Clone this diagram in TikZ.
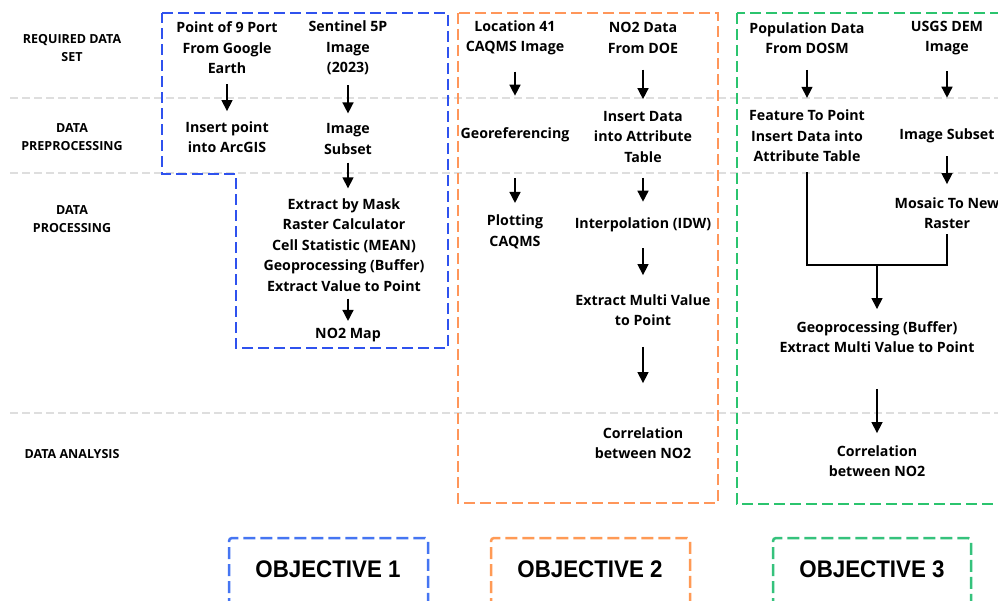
\documentclass[tikz,border=0pt]{standalone}
\usepackage{fontspec}
\setmainfont{Open Sans}
\newfontfamily\objfont{Liberation Sans}
\usetikzlibrary{arrows.meta}
\definecolor{cblue}{HTML}{2F52EE}
\definecolor{corange}{HTML}{FF965A}
\definecolor{cgreen}{HTML}{2BC46E}
\definecolor{oblue}{HTML}{4575F2}
\definecolor{oorange}{HTML}{FF9A55}
\definecolor{ogreen}{HTML}{35C27C}
\tikzset{
  txt/.style={font=\fontsize{14.2}{20.5}\selectfont\bfseries, align=center, inner sep=0pt},
  lab/.style={font=\fontsize{12.5}{17.5}\selectfont\bfseries, align=center, inner sep=0pt},
  obj/.style={font=\objfont\bfseries\fontsize{24}{28}\selectfont, inner sep=0pt},
  arr/.style={-{Triangle[width=11pt,length=11pt]}, line width=1.5pt, black},
  conn/.style={line width=1.5pt, black},
  sepline/.style={draw=black!13, line width=1.5pt, dash pattern=on 8pt off 4pt},
  frame/.style={line width=2pt, dash pattern=on 11pt off 5pt},
  objframe/.style={line width=2.5pt, dash pattern=on 12pt off 5pt, rounded corners=3pt}
}
\begin{document}
\begin{tikzpicture}[x=1pt,y=-1pt]
\useasboundingbox (0,0) rectangle (998,601);
\clip (0,0) rectangle (998,601);
\fill[white] (0,0) rectangle (998,601);

% grey separators
\draw[sepline] (10,98) -- (998,98);
\draw[sepline] (10,173) -- (998,173);
\draw[sepline] (10,413) -- (998,413);

% row labels
\node[lab] (rds) at (72,48) {REQUIRED DATA\\SET};
\node[lab] (dpp) at (72,137) {DATA\\PREPROCESSING};
\node[lab] (dpr) at (72,219) {DATA\\PROCESSING};
\node[lab] (dan) at (72,454) {DATA ANALYSIS};

% frames
\draw[frame, cblue] (162,13) -- (448,13) -- (448,348) -- (236,348) -- (236,174) -- (162,174) -- cycle;
\draw[frame, corange] (458,13) rectangle (718,503);
\draw[frame, cgreen] (737,13) rectangle (1010,504);

% objective 1
\node[txt] (p9) at (227,48) {Point of 9 Port\\From Google\\Earth};
\node[txt] (s5p) at (348,48) {Sentinel 5P\\Image\\(2023)};
\node[txt] (ins) at (227,137) {Insert point\\into ArcGIS};
\node[txt] (isub) at (348,139) {Image\\Subset};
\node[txt] (ext) at (344,245) {Extract by Mask\\Raster Calculator\\Cell Statistic (MEAN)\\Geoprocessing (Buffer)\\Extract Value to Point};
\node[txt] (nmap) at (348,335) {NO2 Map};

\draw[arr, shorten <=10pt, shorten >=10pt] (p9) -- (ins);
\draw[arr, shorten <=10pt, shorten >=10pt] (s5p) -- (isub);
\draw[arr, shorten <=8pt, shorten >=10pt] (isub.south) -- (isub.south |- ext.north);
\draw[arr, shorten <=7pt, shorten >=7pt] (ext.south -| nmap.north) -- (nmap.north);

% objective 2
\node[txt] (loc) at (515,38) {Location 41\\CAQMS Image};
\node[txt] (geor) at (515,135) {Georeferencing};
\node[txt] (plot) at (515,232) {Plotting\\CAQMS};
\node[txt] (no2d) at (643,38) {NO2 Data\\From DOE};
\node[txt] (ida) at (643,137) {Insert Data\\into Attribute\\Table};
\node[txt] (idw) at (643,225) {Interpolation (IDW)};
\node[txt] (emv) at (643,310) {Extract Multi Value\\to Point};
\node[txt] (cor2) at (643,443) {Correlation\\between NO2};

\draw[arr, shorten <=16pt, shorten >=32pt] (loc) -- (geor);
\draw[arr, shorten <=36pt, shorten >=12pt] (geor) -- (plot);
\draw[arr, shorten <=16pt, shorten >=12pt] (no2d) -- (ida);
\draw[arr, shorten <=15pt, shorten >=16pt] (ida) -- (idw);
\draw[arr, shorten <=16pt, shorten >=19pt] (idw) -- (emv);
\draw[arr, shorten <=21pt, shorten >=44pt] (emv) -- (cor2);

% objective 3
\node[txt] (pop) at (807,38) {Population Data\\From DOSM};
\node[txt] (fp) at (807,136) {Feature To Point\\Insert Data into\\Attribute Table};
\node[txt] (usgs) at (947,38) {USGS DEM\\Image};
\node[txt] (isub3) at (947,136) {Image Subset};
\node[txt] (mos) at (947,213) {Mosaic To New\\Raster};
\node[txt] (geo3) at (877,337) {Geoprocessing (Buffer)\\Extract Multi Value to Point};
\node[txt] (cor3) at (877,461) {Correlation\\between NO2};
\coordinate (j) at (877,265);

\draw[arr, shorten <=16pt, shorten >=12pt] (pop) -- (fp);
\draw[arr, shorten <=16pt, shorten >=31pt] (usgs) -- (isub3);
\draw[arr, shorten <=13pt, shorten >=13pt] (isub3) -- (mos);
\draw[conn, shorten <=10pt] (fp.south) |- (j);
\draw[conn, shorten >=5pt] (j) -| (mos.south);
\draw[arr, shorten >=12pt] (j) -- (geo3.north);
\draw[arr, shorten <=36pt, shorten >=12pt] (geo3) -- (cor3);

% objective boxes
\draw[objframe, oblue] (229,610) -- (229,538) -- (428,538) -- (428,610);
\draw[objframe, oorange] (491,610) -- (491,538) -- (690,538) -- (690,610);
\draw[objframe, ogreen] (773,610) -- (773,538) -- (971,538) -- (971,610);
\node[obj] (o1) at (328,569) {\scalebox{0.93}[1]{OBJECTIVE 1}};
\node[obj] (o2) at (590,569) {\scalebox{0.93}[1]{OBJECTIVE 2}};
\node[obj] (o3) at (872,569) {\scalebox{0.93}[1]{OBJECTIVE 3}};
\end{tikzpicture}
\end{document}
